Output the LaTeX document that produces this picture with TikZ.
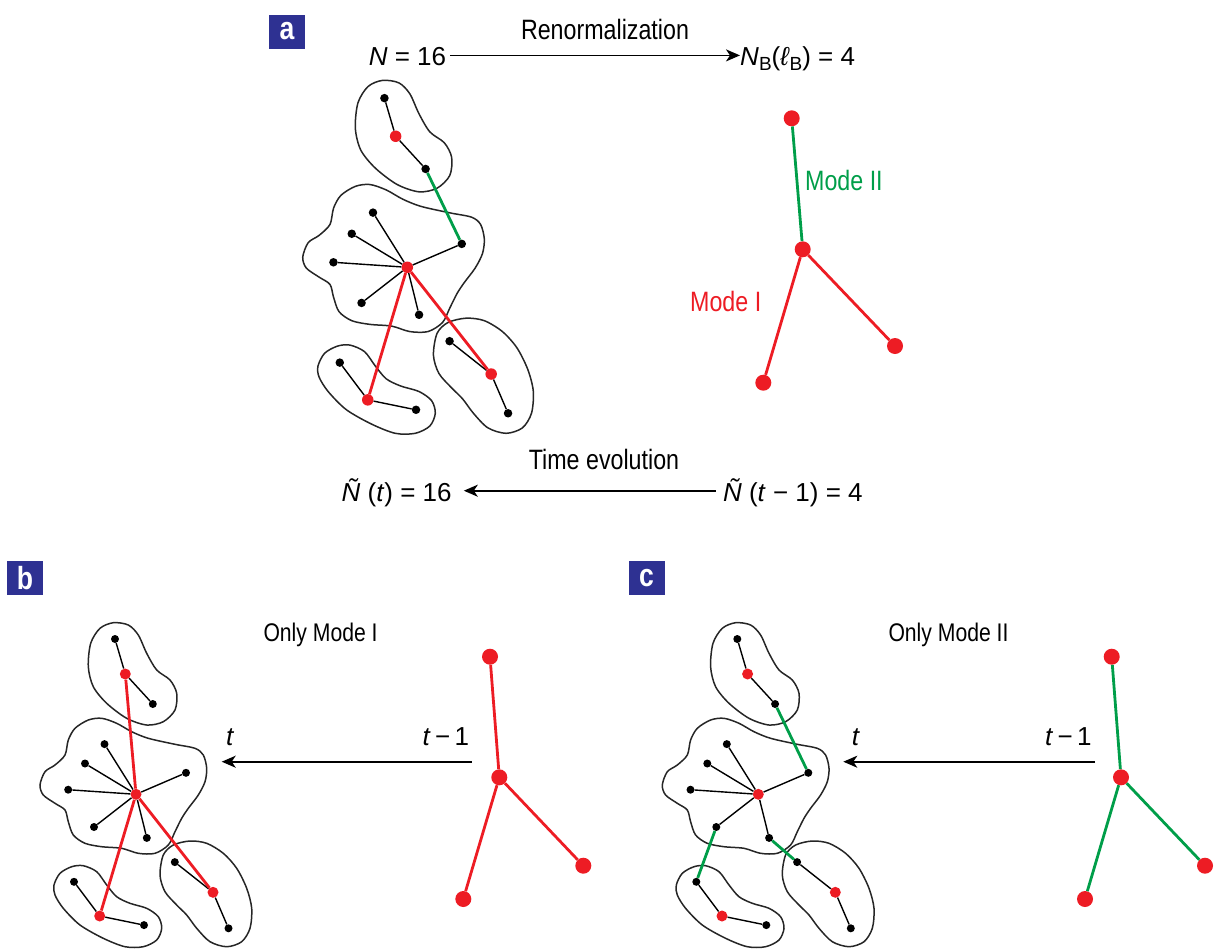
\documentclass[tikz,border=0pt]{standalone}
\usepackage{fontspec}
\setmainfont{Liberation Sans}
\newfontfamily\cond{Liberation Sans}[FakeStretch=0.83]
\usetikzlibrary{arrows.meta}
\definecolor{nred}{RGB}{237,28,36}
\definecolor{ngreen}{RGB}{0,158,73}
\definecolor{nblue}{RGB}{46,49,146}
\newcommand{\lsub}[1]{\raisebox{-0.22em}{\fontsize{19}{19}\selectfont #1}}
\tikzset{
  bdot/.style={circle,fill=black,inner sep=0pt,minimum size=#1},
  rdot/.style={circle,fill=nred,inner sep=0pt,minimum size=#1},
  tdot/.style={circle,fill=nred,inner sep=0pt,minimum size=16pt},
  blob/.style={draw=black!85,line width=1.5pt},
  bedge/.style={draw=black,line width=1.4pt},
  redge/.style={draw=nred,line width=2.8pt},
  gedge/.style={draw=ngreen,line width=2.8pt},
  arr/.style={draw=black,line width=1.8pt,-{Stealth[length=14pt,width=12pt,inset=4pt]}},
  eqlbl/.style={inner sep=0pt,font=\fontsize{26}{30}\selectfont},
  wlbl/.style={inner sep=0pt,font=\cond\fontsize{28}{30}\selectfont},
  olbl/.style={inner sep=0pt,font=\cond\fontsize{25.5}{30}\selectfont},
  panel/.style={fill=nblue,text=white,inner sep=0pt,minimum width=36pt,minimum height=34pt,font=\cond\bfseries\fontsize{32}{32}\selectfont},
}
% #1 prefix, #2 position, #3 scale, #4 black dot size, #5 red dot size
\newcommand{\drawnet}[5]{%
  \begin{scope}[shift={#2},scale=#3]
    \draw[blob] plot[smooth cycle] coordinates {(-22.7,-171.6) (-7.7,-169.3) (2.3,-159.3) (10.7,-141) (20.7,-124.3) (34,-114.3) (40.7,-101) (39,-84.3) (27.3,-72.6) (10.7,-69.3) (-9.3,-76) (-29.3,-91) (-42.7,-107.6) (-47.7,-127.6) (-45.3,-151) (-36,-166)};
    \draw[blob] plot[smooth cycle] coordinates {(-96,-9.3) (-91,-22.6) (-81,-29.3) (-71,-39.3) (-67.7,-54.3) (-61,-66) (-47.7,-74.3) (-34.3,-76) (-19.3,-71) (-4.3,-62.6) (12.3,-56) (39,-50) (59,-46) (67.3,-39.3) (70.7,-26) (69,-12.6) (62.3,0.7) (52.3,14) (45.7,24) (39,37.4) (32.3,50.7) (19,59) (2.3,59) (-14.3,54) (-34.3,52.4) (-51,49) (-62.7,40.7) (-67.7,27.4) (-71,15.7) (-81,9) (-92.7,0.7)};
    \draw[blob] plot[smooth cycle] coordinates {(-82,90.7) (-76,79) (-64.3,72.4) (-52.7,71.4) (-39.3,77.4) (-29.3,90.7) (-19.3,102.4) (-6,109) (10.7,114) (22.3,122.4) (25.7,134) (20.7,145.7) (7.3,152.4) (-11,152.4) (-32.7,144) (-56,130.7) (-72.7,114) (-81,100.7)};
    \draw[blob] plot[smooth cycle] coordinates {(24,80.7) (27.3,60.7) (37.3,50.7) (54,46.7) (70.7,49) (87.3,59) (100.7,74) (110.7,94) (115.7,114) (114,134) (105.7,147.4) (90.7,152.4) (74,147.4) (60.7,134) (50.7,120.7) (40.7,110.7) (29,97.4)};
    \node[bdot=#4] (#1T1) at (-21,-155.3) {};
    \node[rdot=#5] (#1T2) at (-10.7,-120.3) {};
    \node[bdot=#4] (#1T3) at (16.8,-90.3) {};
    \node[rdot=#5] (#1hub) at (0,0) {};
    \node[bdot=#4] (#1S1) at (-31.5,-50.2) {};
    \node[bdot=#4] (#1S2) at (-51,-30.8) {};
    \node[bdot=#4] (#1S3) at (-67.8,-4.6) {};
    \node[bdot=#4] (#1S4) at (-42,32.7) {};
    \node[bdot=#4] (#1S5) at (10.8,43.6) {};
    \node[bdot=#4] (#1S6) at (50,-21.5) {};
    \node[bdot=#4] (#1L1) at (-62,87.5) {};
    \node[rdot=#5] (#1L2) at (-36.3,121.7) {};
    \node[bdot=#4] (#1L3) at (8,130.8) {};
    \node[bdot=#4] (#1R1) at (38.8,67.8) {};
    \node[rdot=#5] (#1R2) at (77,98) {};
    \node[bdot=#4] (#1R3) at (92.5,134) {};
    \draw[bedge] (#1T1) -- (#1T2) (#1T2) -- (#1T3)
      (#1hub) -- (#1S1) (#1hub) -- (#1S2) (#1hub) -- (#1S3)
      (#1hub) -- (#1S4) (#1hub) -- (#1S5) (#1hub) -- (#1S6)
      (#1L1) -- (#1L2) (#1L2) -- (#1L3) (#1R1) -- (#1R2) (#1R2) -- (#1R3);
  \end{scope}%
}
\begin{document}
\begin{tikzpicture}[x=1pt,y=-1pt]
\useasboundingbox (0,0) rectangle (1217,948);

% ---------------- panel a ----------------
\node[panel] (pa) at (287,31.5) {a};
\node[eqlbl,anchor=base west] (Nleft) at (368.6,65) {\textit{N} = 16};
\node[eqlbl,anchor=base west] (NB) at (740,65) {\textit{N}\lsub{B}(\textit{ℓ}\lsub{B}) = 4};
\draw[arr] ([shift={(4,-9.6)}]Nleft.base east) coordinate (ra1) -- (NB.base west |- ra1);
\node[wlbl,anchor=base] (renorm) at (605,39.5) {Renormalization};

\drawnet{a}{(407.3,267.3)}{1.0893}{8.5pt}{11.5pt}
\draw[gedge] (aT3) -- (aS6);
\draw[redge] (ahub) -- (aL2) (ahub) -- (aR2);

\node[tdot] (at1) at (791.7,118.3) {};
\node[tdot] (at2) at (802.7,249.3) {};
\node[tdot] (at3) at (763.3,382.7) {};
\node[tdot] (at4) at (895,346) {};
\draw[gedge] (at1) -- (at2);
\draw[redge] (at2) -- (at3) (at2) -- (at4);
\node[wlbl,anchor=base west,text=ngreen] (m2) at (805,190) {Mode II};
\node[wlbl,anchor=base west,text=nred] (m1) at (690,311.7) {Mode I};

\node[eqlbl,anchor=base west] (Nt) at (341.4,501.4) {\textit{Ñ} (\textit{t}) = 16};
\node[eqlbl,anchor=base east] (Nt1) at (862.9,501.4) {\textit{Ñ} (\textit{t} − 1) = 4};
\draw[arr] ([shift={(-7,-10.7)}]Nt1.base west) -- ([shift={(12,-10.7)}]Nt.base east);
\node[wlbl,anchor=base] (tevol) at (604,469) {Time evolution};

% ---------------- panel b ----------------
\node[panel] (pb) at (25,578) {b};
\node[olbl,anchor=base west] (ob) at (263.3,641.7) {Only Mode I};
\drawnet{b}{(136,794.3)}{1}{8pt}{11pt}
\draw[redge] (bhub) -- (bT2) (bhub) -- (bL2) (bhub) -- (bR2);
\node[eqlbl,anchor=base west] (btl) at (226,745) {\textit{t}};
\node[eqlbl,anchor=base east] (btr) at (469.3,745) {\textit{t}\,−\,1};
\draw[arr] ([shift={(2.4,16.7)}]btr.base east) -- ([shift={(-4.3,16.7)}]btl.base west);
\node[tdot] (bt1) at (490,656.7) {};
\node[tdot] (bt2) at (499.3,777.3) {};
\node[tdot] (bt3) at (463.3,899) {};
\node[tdot] (bt4) at (583.3,865.7) {};
\draw[redge] (bt1) -- (bt2) (bt2) -- (bt3) (bt2) -- (bt4);

% ---------------- panel c ----------------
\node[panel] (pc) at (646.5,578) {c};
\node[olbl,anchor=base west] (oc) at (888.3,641.7) {Only Mode II};
\drawnet{c}{(758.3,794.3)}{1}{8pt}{11pt}
\draw[gedge] (cT3) -- (cS6) (cS4) -- (cL1) (cS5) -- (cR1);
\node[eqlbl,anchor=base west] (ctl) at (851.7,745) {\textit{t}};
\node[eqlbl,anchor=base east] (ctr) at (1091.7,745) {\textit{t}\,−\,1};
\draw[arr] ([shift={(3.3,16.7)}]ctr.base east) -- ([shift={(-8.4,16.7)}]ctl.base west);
\node[tdot] (ct1) at (1111.7,656.7) {};
\node[tdot] (ct2) at (1121,777.3) {};
\node[tdot] (ct3) at (1085,899) {};
\node[tdot] (ct4) at (1205,865.7) {};
\draw[gedge] (ct1) -- (ct2) (ct2) -- (ct3) (ct2) -- (ct4);
\end{tikzpicture}
\end{document}
